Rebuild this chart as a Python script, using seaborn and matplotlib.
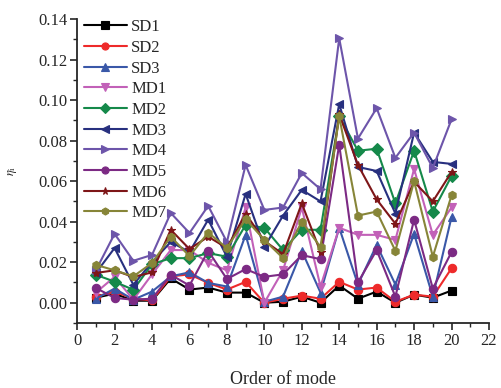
import numpy as np
import pandas as pd
import matplotlib
matplotlib.use('Agg')
import matplotlib.pyplot as plt
from matplotlib.ticker import MultipleLocator, FormatStrFormatter
import seaborn as sns

# mode order
modes = list(range(1, 21))

# damage indicator for each case
sd1 = [0.0025, 0.0045, 0.001, 0.001, 0.012, 0.0065, 0.0075, 0.005, 0.005, 0.000,
       0.0005, 0.003, 0.000, 0.0085, 0.002, 0.0055, 0.000, 0.004, 0.0025, 0.006]
sd2 = [0.003, 0.0055, 0.002, 0.0012, 0.013, 0.014, 0.0098, 0.0065, 0.0103, 0.000,
       0.002, 0.0035, 0.002, 0.0103, 0.0065, 0.0075, 0.0005, 0.004, 0.003, 0.017]
sd3 = [0.002, 0.007, 0.0015, 0.0055, 0.013, 0.015, 0.0098, 0.008, 0.0335, 0.0005,
       0.003, 0.0256, 0.005, 0.037, 0.009, 0.0285, 0.009, 0.034, 0.003, 0.0423]
md1 = [0.005, 0.0128, 0.0015, 0.014, 0.026, 0.026, 0.0197, 0.016, 0.047, 0.000,
       0.016, 0.047, 0.008, 0.037, 0.0335, 0.0335, 0.031, 0.066, 0.0335, 0.047]
md2 = [0.0138, 0.0104, 0.0064, 0.019, 0.022, 0.022, 0.0245, 0.0227, 0.0384, 0.037,
       0.026, 0.036, 0.036, 0.092, 0.075, 0.076, 0.049, 0.075, 0.045, 0.0625]
md3 = [0.0147, 0.027, 0.0089, 0.020, 0.030, 0.025, 0.041, 0.0227, 0.0537, 0.0275,
       0.043, 0.0557, 0.050, 0.098, 0.067, 0.065, 0.044, 0.084, 0.0695, 0.0685]
md4 = [0.016, 0.034, 0.0207, 0.0236, 0.0443, 0.0344, 0.0478, 0.030, 0.068, 0.0458,
       0.047, 0.064, 0.056, 0.1305, 0.081, 0.096, 0.0715, 0.084, 0.0665, 0.0905]
md5 = [0.0073, 0.0024, 0.0015, 0.002, 0.0138, 0.0085, 0.0256, 0.0117, 0.0166, 0.0128,
       0.014, 0.0235, 0.0215, 0.078, 0.010, 0.026, 0.003, 0.041, 0.007, 0.025]
md6 = [0.0147, 0.016, 0.0127, 0.015, 0.036, 0.0265, 0.0326, 0.027, 0.044, 0.0305,
       0.024, 0.049, 0.025, 0.093, 0.068, 0.051, 0.039, 0.0597, 0.050, 0.0645]
md7 = [0.0187, 0.016, 0.013, 0.0196, 0.0326, 0.023, 0.0346, 0.027, 0.0413, 0.031,
       0.022, 0.040, 0.0275, 0.092, 0.043, 0.045, 0.0256, 0.060, 0.0227, 0.053]

names = ['SD1', 'SD2', 'SD3', 'MD1', 'MD2', 'MD3', 'MD4', 'MD5', 'MD6', 'MD7']
series = [sd1, sd2, sd3, md1, md2, md3, md4, md5, md6, md7]

colors = {'SD1': '#000000', 'SD2': '#ee2a2a', 'SD3': '#3a58a8', 'MD1': '#c261b8',
          'MD2': '#15894a', 'MD3': '#28307f', 'MD4': '#6d55aa', 'MD5': '#7c2a84',
          'MD6': '#7e1618', 'MD7': '#878538'}
markers = {'SD1': 's', 'SD2': 'o', 'SD3': '^', 'MD1': 'v', 'MD2': 'D',
           'MD3': '<', 'MD4': '>', 'MD5': 'o', 'MD6': '*', 'MD7': 'h'}

df = pd.DataFrame({
    'mode': modes * len(names),
    'eta': np.concatenate(series),
    'case': np.repeat(names, len(modes)),
})

sns.set_style('ticks')
plt.rcParams['font.family'] = ['Liberation Serif', 'DejaVu Serif']
plt.rcParams['mathtext.fontset'] = 'stix'

fig = plt.figure(figsize=(5.01, 3.88), dpi=100)
ax = fig.add_axes([0.154, 0.1675, 0.822, 0.7835])

sns.lineplot(data=df, x='mode', y='eta', hue='case', style='case',
             palette=colors, markers=markers, dashes=False,
             hue_order=names, style_order=names,
             markersize=6, linewidth=1.5, markeredgewidth=0.8,
             markeredgecolor='auto', ax=ax)

ax.set_xlim(0, 22)
ax.set_ylim(-0.01, 0.14)
ax.xaxis.set_major_locator(MultipleLocator(2))
ax.xaxis.set_minor_locator(MultipleLocator(1))
ax.yaxis.set_major_locator(MultipleLocator(0.02))
ax.yaxis.set_minor_locator(MultipleLocator(0.01))
ax.yaxis.set_major_formatter(FormatStrFormatter('%.2f'))
ax.tick_params(which='major', length=5, width=1.2, labelsize=12, direction='out', pad=2)
ax.tick_params(which='minor', length=3, width=1.0, direction='out')
sns.despine(ax=ax)
for s in ['left', 'bottom']:
    ax.spines[s].set_linewidth(1.3)

ax.set_xlabel('Order of mode', fontsize=13, labelpad=16)
ax.set_ylabel(r'$\eta_\mathregular{i}$', fontsize=9, labelpad=14)

ax.legend(loc='upper left', bbox_to_anchor=(0.008, 1.01), frameon=False,
          fontsize=12, handlelength=2.6, handletextpad=0.25, markerscale=0.85,
          labelspacing=0.28, borderaxespad=0, borderpad=0.2)

fig.savefig('out.png', dpi=100)
